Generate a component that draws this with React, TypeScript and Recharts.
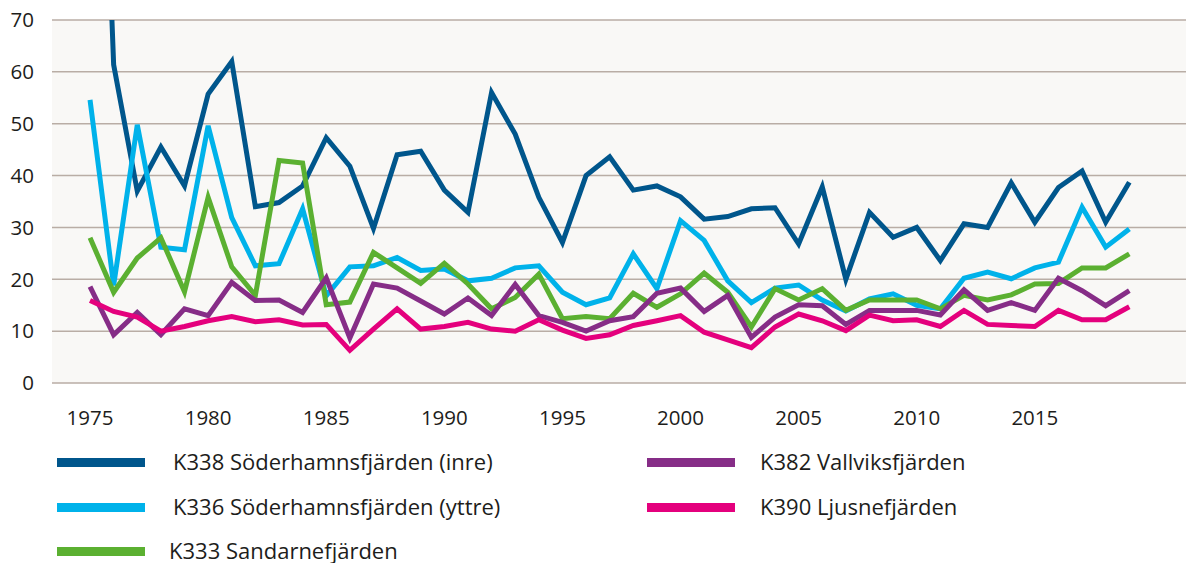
import React from "react";
import { LineChart, Line, XAxis, YAxis, CartesianGrid } from "recharts";

// ==================== DATA ====================
const years = [
  1975, 1976, 1977, 1978, 1979, 1980, 1981, 1982, 1983, 1984,
  1985, 1986, 1987, 1988, 1989, 1990, 1991, 1992, 1993, 1994,
  1995, 1996, 1997, 1998, 1999, 2000, 2001, 2002, 2003, 2004,
  2005, 2006, 2007, 2008, 2009, 2010, 2011, 2012, 2013, 2014,
  2015, 2016, 2017, 2018, 2019,
];

const k338 = [
  180, 61.4, 37, 45.5, 38, 55.7, 62, 34, 34.8, 38,
  47.3, 41.8, 29.8, 44, 44.7, 37.2, 32.9, 56, 48, 35.8,
  27.1, 40, 43.6, 37.2, 38, 35.9, 31.6, 32.1, 33.6, 33.8,
  26.8, 37.8, 20, 32.9, 28.1, 30, 23.6, 30.7, 30, 38.6,
  31, 37.7, 40.9, 31, 38.7,
];

const k336 = [
  54.6, 18.8, 49.8, 26.2, 25.7, 49.6, 31.9, 22.6, 23, 33.6,
  16.8, 22.4, 22.6, 24.2, 21.7, 22, 19.7, 20.2, 22.2, 22.6,
  17.5, 15.1, 16.4, 24.9, 18.2, 31.3, 27.5, 19.7, 15.5, 18.3,
  18.9, 16, 13.9, 16.2, 17.2, 15, 14.3, 20.2, 21.4, 20.1,
  22.2, 23.3, 33.9, 26.2, 29.7,
];

const k333 = [
  28, 17.5, 24.1, 28, 17.6, 35.8, 22.4, 16.9, 42.9, 42.4,
  15.1, 15.6, 25.2, 22.2, 19.2, 23.1, 19.1, 14.3, 16.5, 21,
  12.4, 12.8, 12.4, 17.3, 14.6, 17.2, 21.2, 17.5, 10.8, 18.2,
  16, 18.2, 14, 16, 16, 16, 14.3, 16.9, 16, 17,
  19.1, 19.2, 22.2, 22.2, 24.9,
];

const k382 = [
  18.6, 9.3, 13.6, 9.3, 14.3, 13, 19.4, 15.9, 16, 13.6,
  20.3, 8.7, 19.1, 18.3, 15.8, 13.3, 16.4, 13, 19, 13,
  11.7, 10, 12, 12.8, 17.3, 18.3, 13.8, 16.9, 8.8, 12.7,
  15.1, 14.9, 11.3, 14, 14, 14, 13.1, 18, 14, 15.5,
  14, 20.2, 17.8, 14.9, 17.8,
];

const k390 = [
  15.9, 13.8, 12.7, 10, 10.9, 12, 12.8, 11.8, 12.2, 11.2,
  11.3, 6.3, 10.4, 14.3, 10.4, 10.9, 11.7, 10.4, 10, 12.2,
  10.2, 8.6, 9.3, 11.1, 12, 13, 9.8, 8.3, 6.8, 10.8,
  13.3, 12, 10.1, 13.1, 12, 12.2, 10.9, 14, 11.3, 11.1,
  10.9, 14, 12.2, 12.2, 14.7,
];

const xTicks = [1975, 1980, 1985, 1990, 1995, 2000, 2005, 2010, 2015];
const yTicks = [0, 10, 20, 30, 40, 50, 60, 70];

const series = [
  { key: "k338", name: "K338 Söderhamnsfjärden (inre)", color: "#00568c", values: k338 },
  { key: "k336", name: "K336 Söderhamnsfjärden (yttre)", color: "#00b2ea", values: k336 },
  { key: "k333", name: "K333 Sandarnefjärden", color: "#5bb031", values: k333 },
  { key: "k382", name: "K382 Vallviksfjärden", color: "#862d87", values: k382 },
  { key: "k390", name: "K390 Ljusnefjärden", color: "#e4007d", values: k390 },
];

const chartData = years.map((year, i) => {
  const row: Record<string, number> = { year };
  series.forEach((s) => {
    row[s.key] = s.values[i];
  });
  return row;
});

const FONT = "'Open Sans', sans-serif";

// legend slots: left column rows, then right column rows
const legendPos = [
  { left: 57, top: 462, textLeft: 173 },
  { left: 57, top: 507, textLeft: 173 },
  { left: 57, top: 551, textLeft: 169 },
  { left: 647, top: 462, textLeft: 760 },
  { left: 647, top: 507, textLeft: 760 },
];

export default function App() {
  return (
    <div style={{ position: "absolute", left: 0, top: 0, width: 1186, height: 563, background: "#fff", fontFamily: FONT }}>
      <LineChart
        width={1186}
        height={563}
        data={chartData}
        margin={{ top: 20, right: 0, bottom: 120, left: 0 }}
      >
        <CartesianGrid vertical={false} stroke="#b9ada5" strokeWidth={1.5} fill="#f9f8f6" />
        <XAxis
          dataKey="year"
          type="number"
          domain={[1973.39, 2021.4]}
          ticks={xTicks}
          allowDataOverflow
          axisLine={false}
          tickLine={false}
          tickMargin={21}
          height={60}
          tick={{ fontSize: 20.5, fill: "#1d1d1b", fontFamily: FONT }}
        />
        <YAxis
          domain={[0, 70]}
          ticks={yTicks}
          allowDataOverflow
          axisLine={false}
          tickLine={false}
          tickMargin={12}
          width={52}
          tick={{ fontSize: 20.5, fill: "#1d1d1b", fontFamily: FONT }}
        />
        {series.map((s) => (
          <Line
            key={s.key}
            dataKey={s.key}
            name={s.name}
            type="linear"
            stroke={s.color}
            strokeWidth={5}
            dot={false}
            activeDot={false}
            isAnimationActive={false}
          />
        ))}
      </LineChart>
      {series.map((s, i) => (
        <React.Fragment key={s.key}>
          <div
            style={{
              position: "absolute",
              left: legendPos[i].left,
              top: legendPos[i].top - 4.5,
              width: 88,
              height: 9,
              background: s.color,
            }}
          />
          <div
            style={{
              position: "absolute",
              left: legendPos[i].textLeft,
              top: legendPos[i].top - 11.7,
              fontSize: 22,
              lineHeight: "22px",
              color: "#1d1d1b",
              whiteSpace: "nowrap",
            }}
          >
            {s.name}
          </div>
        </React.Fragment>
      ))}
    </div>
  );
}
